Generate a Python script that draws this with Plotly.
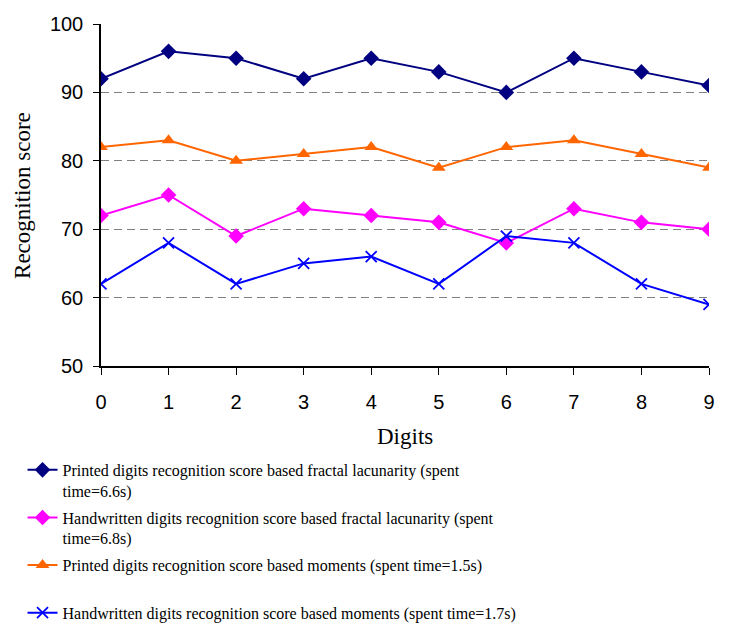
import plotly.graph_objects as go

digits = [0, 1, 2, 3, 4, 5, 6, 7, 8, 9]
printed_fractal = [92, 96, 95, 92, 95, 93, 90, 95, 93, 91]
handwritten_fractal = [72, 75, 69, 73, 72, 71, 68, 73, 71, 70]
printed_moments = [82, 83, 80, 81, 82, 79, 82, 83, 81, 79]
handwritten_moments = [62, 68, 62, 65, 66, 62, 69, 68, 62, 59]

names = [
    "Printed digits recognition score based fractal lacunarity (spent<br>time=6.6s)",
    "Handwritten digits recognition score based fractal lacunarity (spent<br>time=6.8s)",
    "Printed digits recognition score based moments (spent time=1.5s)<br> ",
    "Handwritten digits recognition score based moments (spent time=1.7s)",
]

fig = go.Figure()
fig.add_trace(go.Scatter(x=digits, y=printed_fractal, name=names[0], mode="lines+markers",
                         legendgroup="a",
                         line=dict(color="#000080", width=2),
                         marker=dict(symbol="diamond", size=12, color="#000080")))
fig.add_trace(go.Scatter(x=digits, y=handwritten_fractal, name=names[1], mode="lines+markers",
                         legendgroup="b",
                         line=dict(color="#FF00FF", width=2),
                         marker=dict(symbol="diamond", size=12, color="#FF00FF")))
fig.add_trace(go.Scatter(x=digits, y=printed_moments, name=names[2], mode="lines+markers",
                         legendgroup="c",
                         line=dict(color="#FF6600", width=2),
                         marker=dict(symbol="triangle-up", size=12, color="#FF6600")))
fig.add_trace(go.Scatter(x=digits, y=handwritten_moments, name=names[3], mode="lines+markers",
                         legendgroup="d",
                         line=dict(color="#0000FF", width=2),
                         marker=dict(symbol="x-thin", size=11, color="#0000FF",
                                     line=dict(color="#0000FF", width=1.8))))

fig.update_layout(
    width=751, height=626,
    margin=dict(l=101, r=42, t=24, b=260, autoexpand=False),
    paper_bgcolor="white", plot_bgcolor="white",
    font=dict(family="Liberation Sans", size=20, color="black"),
    showlegend=True,
    legend=dict(
        xref="container", yref="container", x=0.030, y=0.2764,
        xanchor="left", yanchor="top",
        font=dict(family="Liberation Serif", size=16, color="black"),
        valign="top", tracegroupgap=3, itemwidth=30,
        bgcolor="rgba(0,0,0,0)",
    ),
    annotations=[
        dict(text="Recognition score", textangle=-90, xref="paper", yref="paper",
             x=-0.13, y=0.5, xanchor="center", yanchor="middle", showarrow=False,
             font=dict(family="Liberation Serif", size=23, color="black")),
        dict(text="Digits", xref="paper", yref="paper",
             x=0.5, y=-0.207, xanchor="center", yanchor="middle", showarrow=False,
             font=dict(family="Liberation Serif", size=23, color="black")),
    ],
)
fig.update_xaxes(
    range=[0, 9], tickmode="array", tickvals=digits, ticktext=[str(d) for d in digits],
    showline=True, linecolor="black", linewidth=1.5,
    ticks="outside", ticklen=7, tickcolor="black", tickwidth=1,
    showgrid=False, zeroline=False, ticklabelstandoff=10,
    tickfont=dict(family="Liberation Sans", size=20),
)
fig.update_yaxes(
    range=[50, 100], tickvals=[50, 60, 70, 80, 90, 100],
    showline=True, linecolor="black", linewidth=1.5,
    ticks="outside", ticklen=6, tickcolor="black", tickwidth=1,
    showgrid=True, gridcolor="#808080", gridwidth=1, griddash="8px,5px",
    zeroline=False, ticklabelstandoff=6,
    tickfont=dict(family="Liberation Sans", size=20),
)

fig.write_html("out.html")
